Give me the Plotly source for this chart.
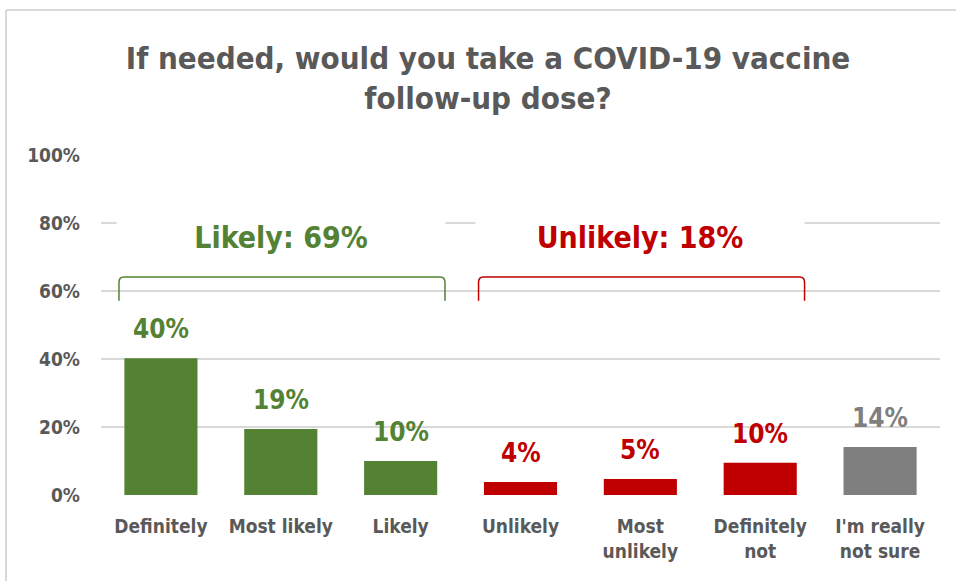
import plotly.graph_objects as go

categories = ["Definitely", "Most likely", "Likely", "Unlikely", "Most<br>unlikely", "Definitely<br>not", "I'm really<br>not sure"]
values = [40.2, 19.4, 10.0, 3.8, 4.7, 9.5, 14.1]
bar_colors = ["#548235", "#548235", "#548235", "#C00000", "#C00000", "#C00000", "#7F7F7F"]
y_ticks = [0, 20, 40, 60, 80, 100]
y_tick_labels = ["0%", "20%", "40%", "60%", "80%", "100%"]
groups = [
    {"label": "Likely: 69%", "first": 0, "last": 2, "color": "#548235"},
    {"label": "Unlikely: 18%", "first": 3, "last": 5, "color": "#C00000"},
]
title_text = "If needed, would you take a COVID-19 vaccine<br>follow-up dose?"

FONT = "DejaVu Sans Condensed, DejaVu Sans, sans-serif"
xs = list(range(len(categories)))

fig = go.Figure()
fig.add_trace(go.Bar(
    x=xs, y=values, marker=dict(color=bar_colors, line=dict(width=0)),
    width=0.61, hoverinfo="skip", showlegend=False,
))

annotations = []
for x, v, c in zip(xs, values, bar_colors):
    annotations.append(dict(
        x=x, y=v, xref="x", yref="y", text=f"{round(v)}%", showarrow=False,
        yanchor="middle", yshift=29,
        font=dict(family=FONT, size=26, color=c, weight="bold"),
    ))

shapes = []
for g in groups:
    x0 = g["first"] - 0.35
    x1 = g["last"] + 0.37
    ytop, ybot = 64.1, 57.1
    dx, dy = 0.04, 1.6
    path = (f"M {x0},{ybot} L {x0},{ytop - dy} Q {x0},{ytop} {x0 + dx},{ytop} "
            f"L {x1 - dx},{ytop} Q {x1},{ytop} {x1},{ytop - dy} L {x1},{ybot}")
    shapes.append(dict(type="path", path=path, xref="x", yref="y",
                       line=dict(color=g["color"], width=1.5), layer="above"))
    center = (g["first"] + g["last"]) / 2
    annotations.append(dict(
        x=center, y=75.9, xref="x", yref="y", text=g["label"], showarrow=False,
        width=326, height=46, bgcolor="white", yanchor="middle",
        font=dict(family=FONT, size=30, color=g["color"], weight="bold"),
    ))

# outer chart border (left and top edges visible)
bx = (6 - 101) / 839
by = (495 - 10) / 340
shapes.append(dict(type="line", xref="paper", yref="paper",
                   x0=bx, x1=bx, y0=by, y1=-0.4, line=dict(color="#d9d9d9", width=2)))
shapes.append(dict(type="line", xref="paper", yref="paper",
                   x0=bx, x1=1.1, y0=by, y1=by, line=dict(color="#d9d9d9", width=2)))

fig.update_layout(
    width=956, height=581, autosize=False,
    margin=dict(l=101, r=16, t=155, b=86),
    paper_bgcolor="white", plot_bgcolor="white",
    title=dict(text=title_text, x=488 / 956, xanchor="center", y=1 - 68.5 / 581, yanchor="middle",
               xref="container", yref="container",
               font=dict(family=FONT, size=31, color="#595959", weight="bold")),
    font=dict(family=FONT, color="#595959"),
    annotations=annotations,
    shapes=shapes,
)
fig.update_xaxes(range=[-0.5, 6.5], tickvals=xs, ticktext=categories, showgrid=False,
                 zeroline=False, showline=False, ticks="",
                 tickfont=dict(family=FONT, size=19, color="#595959", weight="bold"),
                 ticklabelstandoff=18)
fig.update_yaxes(range=[0, 100], tickvals=y_ticks, ticktext=y_tick_labels, showgrid=True,
                 gridcolor="#d9d9d9", gridwidth=2, zeroline=False, showline=False, ticks="",
                 tickfont=dict(family=FONT, size=19, color="#595959", weight="bold"),
                 ticklabelstandoff=20)

fig.write_html("out.html", config={"displayModeBar": False},
               post_script="document.body.style.margin='0px';")
